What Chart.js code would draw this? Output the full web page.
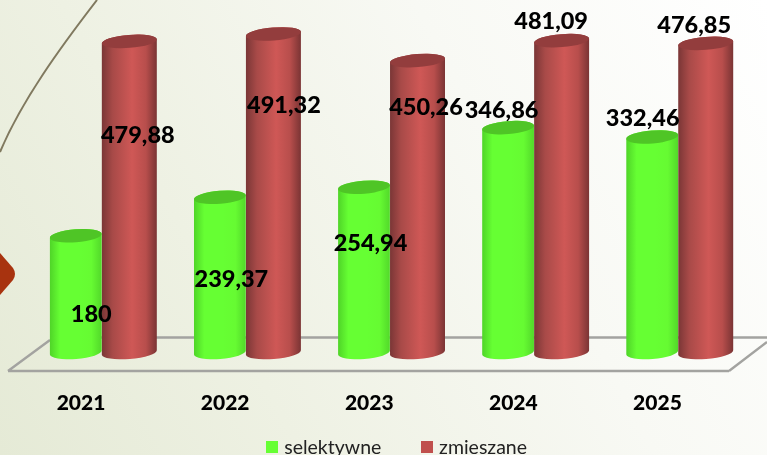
<!DOCTYPE html>
<html><head><meta charset="utf-8">
<script src="https://cdn.jsdelivr.net/npm/chart.js@4"></script>
<style>
html,body{margin:0;padding:0;width:767px;height:455px;overflow:hidden}
#wrap{position:relative;width:767px;height:455px;overflow:hidden;background:linear-gradient(62deg,#e5ead6 0%,#eef1e3 30%,#f8f9f4 65%,#ffffff 100%)}
svg,canvas{position:absolute;left:0;top:0}
</style></head><body>
<div id="wrap">
<svg width="767" height="455">
  <path d="M97,0 C60,48 22,100 0,152" fill="none" stroke="#80795f" stroke-width="2"/>
  <path d="M0,253 L13,268 Q17,274 13,280 L0,295 Z" fill="#a8330f"/>
  <path d="M50,337.5 H767 M8,371 H729 M8,371 L50,340 M729,371 L767,342" fill="none" stroke="#a3a3a0" stroke-width="2.4"/>
</svg>
<canvas id="c" width="767" height="467"></canvas>
</div>
<script>
const categories = ['2021','2022','2023','2024','2025'];
const selektywne = [180, 239.37, 254.94, 346.86, 332.46];
const zmieszane = [479.88, 491.32, 450.26, 481.09, 476.85];
const seriesNames = ['selektywne','zmieszane'];

const GREEN='#66ff33', RED='#c0504d';
const bodyStops={[GREEN]:['#4fd428','#66ff33','#66ff33','#66fb32','#52d82a'],
                 [RED]:['#7a3636','#a84a48','#cf5856','#b84e4c','#7a3434']};
const capColor={[GREEN]:'#4fc526',[RED]:'#933d3d'};
const TILT=-4.5*Math.PI/180, RY=6.5;

// each bar element draws itself as a cylinder from the library's x / y / base / width
Chart.BarElement.prototype.draw=function(ctx){
  const {x,y,base,width}=this.getProps(['x','y','base','width']);
  const col=this.options.backgroundColor, rx=width/2;
  const g=ctx.createLinearGradient(x-rx,0,x+rx,0);
  bodyStops[col].forEach((c,i)=>g.addColorStop([0,.2,.55,.8,1][i],c));
  ctx.save();
  ctx.beginPath();
  ctx.ellipse(x,base,rx,RY,TILT,Math.PI,0,true);
  ctx.ellipse(x,y,rx,RY,TILT,0,Math.PI,true);
  ctx.closePath();
  ctx.fillStyle=g;ctx.fill();
  ctx.beginPath();
  ctx.ellipse(x,y,rx,RY,TILT,0,Math.PI*2);
  ctx.fillStyle=capColor[col];ctx.fill();
  ctx.restore();
};

// offsets of each value label from the top of its bar
const labelShift=[
  [[15.5,78.5],[11.5,82],[6.5,56],[-6.5,-17.5],[-9.5,-19]],
  [[8.5,93.6],[10.5,71],[8.5,46.5],[-10.5,-19.6],[-11.5,-18.3]]
];
const valueLabels={id:'valueLabels',
  afterLayout(chart){chart.scales.x.bottom+=40;}, // let the axis labels paint past the narrow axis box
  afterDatasetsDraw(chart){
  const ctx=chart.ctx;
  ctx.save();
  ctx.font='900 23.5px Lato';ctx.fillStyle='#000';ctx.textAlign='center';ctx.textBaseline='middle';
  chart.data.datasets.forEach((ds,i)=>{
    chart.getDatasetMeta(i).data.forEach((el,j)=>{
      ctx.fillText(String(ds.data[j]).replace('.',','),el.x+labelShift[i][j][0],el.y+labelShift[i][j][1]);
    });
  });
  ctx.restore();
}};

function swatch(color){
  const s=document.createElement('canvas');s.width=12;s.height=12;
  const c=s.getContext('2d');c.fillStyle=color;c.fillRect(0,0,12,12);return s;
}

new Chart(document.getElementById('c'),{
  type:'bar',
  data:{labels:categories,datasets:[
    {label:seriesNames[0],data:selektywne,backgroundColor:GREEN,barPercentage:.97,clip:false},
    {label:seriesNames[1],data:zmieszane,backgroundColor:RED,barPercentage:1.03,clip:false}
  ]},
  plugins:[valueLabels],
  options:{
    responsive:false,animation:false,
    events:[],
    datasets:{bar:{categoryPercentage:.743}},
    layout:{padding:{left:30.5,right:0,top:28.35,bottom:0}},
    plugins:{
      tooltip:{enabled:false},
      legend:{position:'bottom',labels:{
        usePointStyle:true,boxWidth:4,boxHeight:4,padding:44,color:'#222',
        font:{family:'Lato',size:19.5},
        generateLabels(chart){
          return Chart.defaults.plugins.legend.labels.generateLabels(chart).map(l=>{
            l.pointStyle=swatch(l.fillStyle);return l;});
        }
      }}
    },
    scales:{
      x:{offset:true,grid:{display:false},border:{display:false},
         ticks:{color:'#000',font:{family:'Lato',size:21,weight:'900'},padding:30,labelOffset:-21.5,autoSkip:false,maxRotation:0},
         afterFit(s){s.height=41;}},
      y:{position:'right',min:0,max:500,grid:{display:false},border:{display:false},
         ticks:{display:false},afterFit(s){s.width=16;}}
    }
  }
});
</script>
</body></html>
